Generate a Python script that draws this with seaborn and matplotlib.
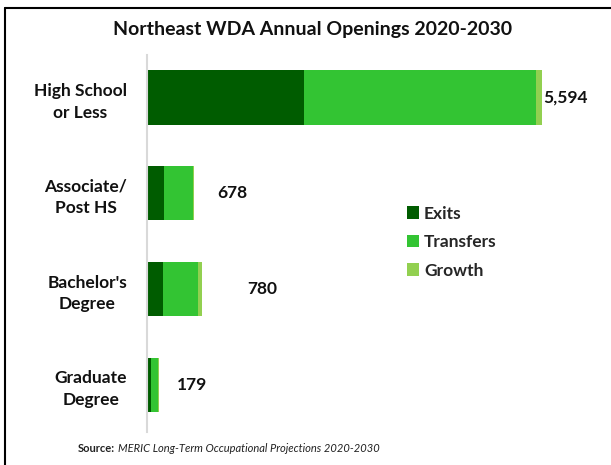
import matplotlib
matplotlib.use("Agg")
import matplotlib.pyplot as plt
import seaborn as sns
import pandas as pd
import numpy as np
from matplotlib.lines import Line2D
from matplotlib.patches import Patch

categories = ["High School\nor Less", "Associate/\nPost HS", "Bachelor's\nDegree", "Graduate\nDegree"]
exits = [2226, 247, 240, 60]
transfers = [3278, 414, 486, 107]
growth = [90, 17, 54, 12]
totals = [5594, 678, 780, 179]
total_labels = ["5,594", "678", "780", "179"]
label_offsets = [10, 320, 640, 250]

series_names = ["Exits", "Transfers", "Growth"]
colors = ["#005C00", "#33C433", "#92D050"]

sns.set_theme(style="white")
plt.rcParams['font.family'] = ['Lato', 'DejaVu Sans']

fig = plt.figure(figsize=(6.11, 4.65), dpi=100)
ax = fig.add_axes([146.5 / 611, (465 - 432) / 465, (590 - 146.5) / 611, 377 / 465])

df = pd.DataFrame({"cat": categories, "Exits": exits, "Transfers": transfers, "Growth": growth})
df["c1"] = df["Exits"]
df["c2"] = df["Exits"] + df["Transfers"]
df["c3"] = df["c2"] + df["Growth"]

for col, color in zip(["c3", "c2", "c1"], [colors[2], colors[1], colors[0]]):
    sns.barplot(data=df, y="cat", x=col, orient="h", color=color, width=0.57,
                saturation=1, ax=ax, edgecolor="none", linewidth=0)

for i, (t, lab, off) in enumerate(zip(totals, total_labels, label_offsets)):
    ax.text(t + off, i, lab, va="center", ha="left", fontsize=12.5, fontweight="bold", color="#111111")

ax.set_xlim(0, (590 - 146.5) * 14.13)
ax.set_ylim(3.49, -0.44)
ax.set_xlabel("")
ax.set_ylabel("")
ax.set_xticks([])
ax.tick_params(axis="y", length=0, pad=14)
for lbl in ax.get_yticklabels():
    lbl.set_fontweight("bold")
    lbl.set_fontsize(12.5)
    lbl.set_multialignment("center")
    lbl.set_linespacing(1.45)
    lbl.set_color("#111111")
for s in ["top", "right", "bottom"]:
    ax.spines[s].set_visible(False)
ax.spines["left"].set_color("#D9D9D9")
ax.spines["left"].set_linewidth(1.5)

handles = [Patch(facecolor=c, edgecolor="none") for c in colors]
fig.legend(handles, series_names, loc="upper left", bbox_to_anchor=(391 / 611, 1 - 190 / 465),
           frameon=False, handlelength=0.7, handleheight=0.7,
           handletextpad=0.3, labelspacing=0.72, prop={"weight": "bold", "size": 12.5})

fig.text(313 / 611, 1 - 30 / 465, "Northeast WDA Annual Openings 2020-2030", ha="center", va="center",
         fontsize=14, fontweight="bold", color="#111111")

t1 = fig.text(78 / 611, 1 - 448 / 465, "Source:", ha="left", va="center", fontsize=8, fontweight="bold",
              color="#222222")
fig.canvas.draw()
bb = t1.get_window_extent()
x2 = (bb.x1 + 3) / fig.bbox.width
fig.text(x2, 1 - 448 / 465, "MERIC Long-Term Occupational Projections 2020-2030", ha="left",
         va="center", fontsize=8, style="italic", color="#222222")

fig.add_artist(Line2D([5 / 611, 1], [1 - 8 / 465, 1 - 8 / 465], color="black", linewidth=1.5,
                      transform=fig.transFigure))
fig.add_artist(Line2D([5 / 611, 5 / 611], [0, 1 - 8 / 465], color="black", linewidth=1.5,
                      transform=fig.transFigure))

fig.savefig("out.png", dpi=100)
